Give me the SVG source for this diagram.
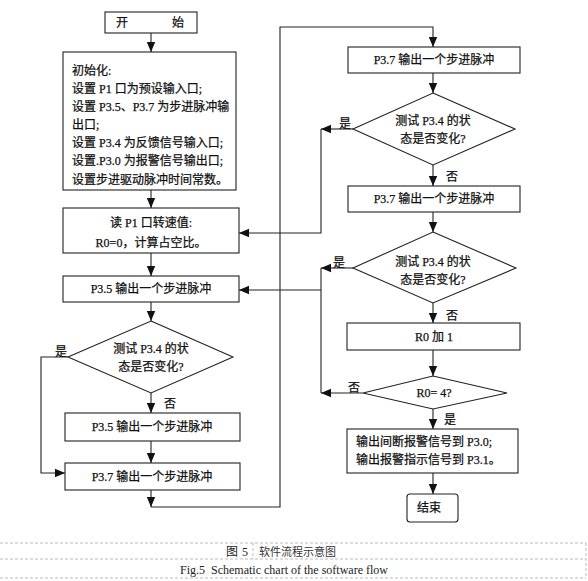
<svg xmlns="http://www.w3.org/2000/svg" width="588" height="581" viewBox="0 0 588 581">
<style>
.box{fill:#fff;stroke:#222;stroke-width:1.1}
.t{font-family:"Liberation Serif","Noto Sans CJK SC",serif;font-size:12px;fill:#111;stroke:#111;stroke-width:0.25}
.c{text-anchor:middle}
.ln{fill:none;stroke:#222;stroke-width:1.1}
.arr{marker-end:url(#ah)}
.dash{stroke:#bbb;stroke-width:1;stroke-dasharray:3,2;fill:none}
.cap{font-family:"Liberation Serif","Noto Sans CJK SC",serif;font-size:12px;fill:#222}
</style>
<defs>
<marker id="ah" markerUnits="userSpaceOnUse" markerWidth="10" markerHeight="10" viewBox="0 0 10 10" refX="10" refY="5" orient="auto">
<path d="M0,0.8 L10,5 L0,9.2 Z" fill="#111"/>
</marker>
</defs>
<rect width="588" height="581" fill="#fff"/>

<g id="connectors">
<path class="ln arr" d="M151,33 V52"/>
<path class="ln arr" d="M151,190 V208"/>
<path class="ln arr" d="M151,253 V276"/>
<path class="ln arr" d="M151,302 V321"/>
<path class="ln arr" d="M151,393 V413"/>
<path class="ln arr" d="M151,441 V463"/>
<path class="ln arr" d="M68,357 H41 V473 H65"/>
<path class="ln arr" d="M151,490 V507"/>
<path class="ln arr" d="M151,507 H280 V27 H433 V47"/>
<path class="ln arr" d="M433,73 V93"/>
<path class="ln arr" d="M433,165 V186"/>
<path class="ln arr" d="M353,129 H321"/>
<path class="ln arr" d="M321,129 V233 H239"/>
<path class="ln arr" d="M433,212 V232"/>
<path class="ln arr" d="M433,303 V323"/>
<path class="ln arr" d="M353,268 H321"/>
<path class="ln" d="M321,268 V393"/>
<path class="ln arr" d="M321,290 H239"/>
<path class="ln arr" d="M433,350 V376"/>
<path class="ln arr" d="M363,393 H321"/>
<path class="ln arr" d="M433,409 V429"/>
<path class="ln arr" d="M433,473 V494"/>
<text class="t" x="55" y="356">是</text>
<text class="t" x="164" y="408">否</text>
<text class="t" x="339" y="128">是</text>
<text class="t" x="446" y="181">否</text>
<text class="t" x="333" y="267">是</text>
<text class="t" x="446" y="320">否</text>
<text class="t" x="348" y="392">否</text>
<text class="t" x="444" y="424">是</text>
</g>

<g id="start">
<rect class="box" x="105" y="12" width="92" height="21"/>
<text class="t" x="116" y="27">开</text>
<text class="t" x="172" y="27">始</text>
</g>

<g id="init">
<rect class="box" x="63" y="52" width="173" height="138"/>
<text class="t" x="72" y="75">初始化:</text>
<text class="t" x="72" y="93">设置 P1 口为预设输入口;</text>
<text class="t" x="72" y="111">设置 P3.5、P3.7 为步进脉冲输</text>
<text class="t" x="72" y="129">出口;</text>
<text class="t" x="72" y="147">设置 P3.4 为反馈信号输入口;</text>
<text class="t" x="72" y="165">设置.P3.0 为报警信号输出口;</text>
<text class="t" x="72" y="184">设置步进驱动脉冲时间常数。</text>
</g>

<g id="read">
<rect class="box" x="63" y="208" width="176" height="45"/>
<text class="t c" x="151" y="227">读 P1 口转速值:</text>
<text class="t c" x="151" y="247">R0=0，计算占空比。</text>
</g>

<g id="p35a">
<rect class="box" x="63" y="276" width="176" height="26"/>
<text class="t c" x="151" y="293">P3.5 输出一个步进脉冲</text>
</g>

<g id="testL">
<path class="box" d="M151,321 L233,357 L151,393 L68,357 Z"/>
<text class="t c" x="151" y="353">测试 P3.4 的状</text>
<text class="t c" x="151" y="371">态是否变化?</text>
</g>

<g id="p35b">
<rect class="box" x="65" y="413" width="175" height="28"/>
<text class="t c" x="152" y="431">P3.5 输出一个步进脉冲</text>
</g>

<g id="p37a">
<rect class="box" x="65" y="463" width="175" height="27"/>
<text class="t c" x="152" y="481">P3.7 输出一个步进脉冲</text>
</g>

<g id="p37b">
<rect class="box" x="348" y="47" width="172" height="26"/>
<text class="t c" x="434" y="64">P3.7 输出一个步进脉冲</text>
</g>

<g id="test1">
<path class="box" d="M433,93 L515,129 L433,165 L353,129 Z"/>
<text class="t c" x="433" y="125">测试 P3.4 的状</text>
<text class="t c" x="433" y="143">态是否变化?</text>
</g>

<g id="p37c">
<rect class="box" x="348" y="186" width="172" height="26"/>
<text class="t c" x="434" y="203">P3.7 输出一个步进脉冲</text>
</g>

<g id="test2">
<path class="box" d="M433,232 L516,268 L433,303 L353,268 Z"/>
<text class="t c" x="433" y="266">测试 P3.4 的状</text>
<text class="t c" x="433" y="284">态是否变化?</text>
</g>

<g id="inc">
<rect class="box" x="347" y="323" width="173" height="27"/>
<text class="t c" x="434" y="341">R0 加 1</text>
</g>

<g id="check">
<path class="box" d="M433,376 L507,393 L433,409 L363,393 Z"/>
<text class="t c" x="434" y="397">R0= 4?</text>
</g>

<g id="alarm">
<rect class="box" x="347" y="429" width="171" height="44"/>
<text class="t" x="356" y="446">输出间断报警信号到 P3.0;</text>
<text class="t" x="356" y="464">输出报警指示信号到 P3.1。</text>
</g>

<g id="end">
<rect class="box" x="407" y="494" width="51" height="28" rx="3"/>
<text class="t" x="417" y="512">结束</text>
</g>

<g id="caption">
<path class="dash" d="M0,543 H586 M0,559 H586 M0,578 H586 M586,543 V578 M253,543 V559"/>
<text class="cap" x="226" y="556">图</text>
<text class="cap" x="242" y="556">5</text>
<text class="cap" x="259" y="556" style="font-family:'Noto Sans CJK SC',sans-serif;font-size:11px;fill:#333">软件流程示意图</text>
<text class="cap c" x="284" y="574" xml:space="preserve">Fig.5  Schematic chart of the software flow</text>
</g>
</svg>
